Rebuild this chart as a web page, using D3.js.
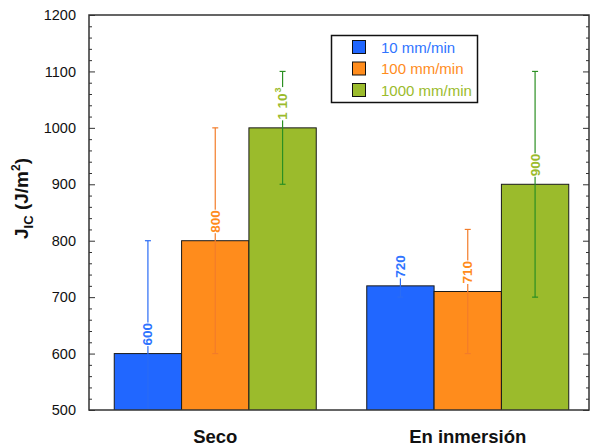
<!DOCTYPE html>
<html>
<head>
<meta charset="utf-8">
<script src="https://cdn.jsdelivr.net/npm/d3@7/dist/d3.min.js"></script>
<style>
  html, body { margin: 0; padding: 0; background: #fff; }
  svg { display: block; font-family: Arial, "Liberation Sans", Helvetica, sans-serif; }
</style>
</head>
<body>
<svg id="chart" width="590" height="446"></svg>
<script>
// Fracture toughness J_IC by test speed, dry vs immersed
const groups = ["Seco", "En inmersión"];
const series = ["10 mm/min", "100 mm/min", "1000 mm/min"];
const values = {
  "10 mm/min":   [600, 720],
  "100 mm/min":  [800, 710],
  "1000 mm/min": [1000, 900]
};
const errors = {
  "10 mm/min":   [200, 20],
  "100 mm/min":  [200, 110],
  "1000 mm/min": [100, 200]
};
const valueLabels = {
  "10 mm/min":   ["600", "720"],
  "100 mm/min":  ["800", "710"],
  "1000 mm/min": ["1 10|3", "900"]
};
const yTicks = [500, 600, 700, 800, 900, 1000, 1100, 1200];

const fillColor  = { "10 mm/min": "#2167ff", "100 mm/min": "#ff8c1c", "1000 mm/min": "#9bbb2c" };
const textColor  = { "10 mm/min": "#2f74ff", "100 mm/min": "#ff8c1c", "1000 mm/min": "#9bbb2c" };
const errColor   = { "10 mm/min": "#2a6cf5", "100 mm/min": "#f27c2a", "1000 mm/min": "#2b8f22" };

const svg = d3.select("#chart");
const plotL = 89, plotR = 589, plotT = 15, plotB = 410;

const y = d3.scaleLinear().domain([500, 1200]).range([plotB, plotT]);
const x0 = d3.scaleBand().domain(groups).range([plotL, 594]).paddingInner(0.2).paddingOuter(0.1);
const x1 = d3.scaleBand().domain(series).range([0, x0.bandwidth()]);

svg.append("clipPath").attr("id", "plotClip")
  .append("rect").attr("x", plotL).attr("y", plotT).attr("width", plotR - plotL).attr("height", plotB - plotT);

const plot = svg.append("g").attr("clip-path", "url(#plotClip)");

// bars
groups.forEach((g, gi) => {
  series.forEach(s => {
    const v = values[s][gi];
    plot.append("rect")
      .attr("x", x0(g) + x1(s))
      .attr("y", y(v))
      .attr("width", x1.bandwidth())
      .attr("height", y(500) - y(v) + 2)
      .attr("fill", fillColor[s])
      .attr("stroke", "#1a1a1a")
      .attr("stroke-width", 1);
  });
});

// error bars
groups.forEach((g, gi) => {
  series.forEach(s => {
    const v = values[s][gi], e = errors[s][gi];
    const cx = x0(g) + x1(s) + x1.bandwidth() / 2;
    const eg = plot.append("g").attr("stroke", errColor[s]).attr("stroke-width", 1.2);
    eg.append("line").attr("x1", cx).attr("x2", cx).attr("y1", y(v - e)).attr("y2", y(v + e));
    [v - e, v + e].forEach(t => {
      eg.append("line").attr("x1", cx - 3).attr("x2", cx + 3).attr("y1", y(t)).attr("y2", y(t));
    });
  });
});

// value labels, rotated, with white backing
groups.forEach((g, gi) => {
  series.forEach(s => {
    const v = values[s][gi];
    const cx = x0(g) + x1(s) + x1.bandwidth() / 2;
    const lg = svg.append("g").attr("transform", `translate(${cx + 4.5},${y(v) - 8}) rotate(-90)`);
    const bg = lg.append("rect").attr("fill", "#fff");
    const t = lg.append("text")
      .attr("x", 0).attr("y", 0)
      .attr("fill", textColor[s])
      .attr("font-size", 13.5).attr("font-weight", "bold");
    const parts = valueLabels[s][gi].split("|");
    t.append("tspan").text(parts[0]);
    if (parts[1]) {
      t.append("tspan").attr("dy", -6).attr("dx", 1).attr("font-size", 9).text(parts[1]);
    }
    const bb = t.node().getBBox();
    bg.attr("x", bb.x - 0.5).attr("y", bb.y + 2).attr("width", bb.width + 1).attr("height", bb.height - 3);
  });
});

// axes (ticks pointing inwards on both sides)
const minorTicks = d3.range(500, 1201, 20).filter(d => d % 100 !== 0);

const yAxisL = d3.axisLeft(y).tickValues(yTicks).tickFormat(d3.format("d"))
  .tickSizeInner(-6).tickSizeOuter(0).tickPadding(13);
const gL = svg.append("g").attr("transform", `translate(${plotL},0)`).call(yAxisL);
gL.selectAll("text").attr("font-size", 14.5).attr("fill", "#111").attr("font-family", "Arial, 'Liberation Sans', sans-serif");
gL.selectAll("line").attr("stroke", "#333");
gL.select(".domain").remove();
svg.append("g").attr("transform", `translate(${plotL},0)`)
  .call(d3.axisLeft(y).tickValues(minorTicks).tickSizeInner(-3).tickSizeOuter(0).tickFormat(""))
  .call(a => a.select(".domain").remove())
  .selectAll("line").attr("stroke", "#333");

const gR = svg.append("g").attr("transform", `translate(${plotR},0)`)
  .call(d3.axisRight(y).tickValues(yTicks).tickSizeInner(-6).tickSizeOuter(0).tickFormat(""));
gR.select(".domain").remove();
gR.selectAll("line").attr("stroke", "#333");
svg.append("g").attr("transform", `translate(${plotR},0)`)
  .call(d3.axisRight(y).tickValues(minorTicks).tickSizeInner(-3).tickSizeOuter(0).tickFormat(""))
  .call(a => a.select(".domain").remove())
  .selectAll("line").attr("stroke", "#333");

// frame
svg.append("rect")
  .attr("x", plotL).attr("y", plotT).attr("width", plotR - plotL).attr("height", plotB - plotT)
  .attr("fill", "none").attr("stroke", "#333").attr("stroke-width", 1.5);

// group labels
groups.forEach(g => {
  svg.append("text")
    .attr("x", x0(g) + x0.bandwidth() / 2)
    .attr("y", 443)
    .attr("text-anchor", "middle")
    .attr("font-size", 18.5).attr("font-weight", "bold").attr("fill", "#111")
    .text(g);
});

// y-axis title
const yt = svg.append("text")
  .attr("transform", `translate(28,${(plotT + plotB) / 2 - 14}) rotate(-90)`)
  .attr("text-anchor", "middle")
  .attr("font-size", 19).attr("font-weight", "bold").attr("fill", "#111");
yt.append("tspan").text("J");
yt.append("tspan").attr("font-size", 13).attr("dy", 5).text("IC");
yt.append("tspan").attr("dy", -5).text(" (J/m");
yt.append("tspan").attr("font-size", 12).attr("dy", -8).text("2");
yt.append("tspan").attr("dy", 8).text(")");

// legend
const legend = svg.append("g");
legend.append("rect").attr("x", 331.5).attr("y", 35.5).attr("width", 146).attr("height", 67)
  .attr("fill", "#fff").attr("stroke", "#111").attr("stroke-width", 1.5);
series.forEach((s, i) => {
  const ly = 40 + i * 21.5;
  legend.append("rect").attr("x", 352.5).attr("y", ly + 0.5).attr("width", 13).attr("height", 13)
    .attr("fill", fillColor[s]).attr("stroke", "#111").attr("stroke-width", 1);
  legend.append("text").attr("x", 381).attr("y", ly + 12.5).attr("font-size", 15)
    .attr("fill", textColor[s]).text(s);
});
</script>
</body>
</html>
